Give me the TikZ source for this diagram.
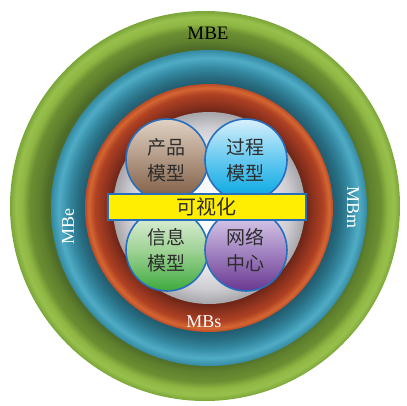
\documentclass[tikz,border=0pt]{standalone}
\usepackage{fontspec}
\setmainfont{Liberation Serif}
\newfontfamily\cjk{Noto Sans CJK SC}

\definecolor{edgeblue}{RGB}{40,110,190}
\definecolor{textgray}{RGB}{45,45,45}
\definecolor{visyellow}{RGB}{255,238,0}
% green ring
\definecolor{gA}{RGB}{78,108,40}
\definecolor{gB}{RGB}{95,128,45}
\definecolor{gC}{RGB}{108,142,50}
\definecolor{gD}{RGB}{142,182,66}
\definecolor{gE}{RGB}{152,192,76}
\definecolor{gF}{RGB}{122,165,56}
% blue ring
\definecolor{bA}{RGB}{33,92,112}
\definecolor{bB}{RGB}{40,108,128}
\definecolor{bC}{RGB}{52,138,162}
\definecolor{bD}{RGB}{80,172,198}
\definecolor{bE}{RGB}{52,138,162}
% red ring
\definecolor{rA}{RGB}{108,37,24}
\definecolor{rB}{RGB}{140,50,30}
\definecolor{rC}{RGB}{175,65,35}
\definecolor{rD}{RGB}{212,102,50}
\definecolor{rE}{RGB}{185,75,40}
% inner ball
\definecolor{wA}{RGB}{240,240,242}
\definecolor{wB}{RGB}{205,205,210}
\definecolor{wC}{RGB}{165,165,170}

% the path edge sits at 25bp
\pgfdeclareradialshading{greenring}{\pgfpointorigin}{color(0bp)=(gA); color(20.25bp)=(gA); color(21.25bp)=(gB); color(22.5bp)=(gC); color(23.4bp)=(gD); color(24.25bp)=(gE); color(25bp)=(gF); color(50bp)=(gF)}
\pgfdeclareradialshading{bluering}{\pgfpointorigin}{color(0bp)=(bA); color(19.6bp)=(bA); color(20.75bp)=(bB); color(22.25bp)=(bC); color(23.75bp)=(bD); color(25bp)=(bE); color(50bp)=(bE)}
\pgfdeclareradialshading{redring}{\pgfpointorigin}{color(0bp)=(rA); color(19.35bp)=(rA); color(21bp)=(rB); color(23bp)=(rC); color(24.25bp)=(rD); color(25bp)=(rE); color(50bp)=(rE)}
\pgfdeclareradialshading{innerball}{\pgfpointorigin}{color(0bp)=(white); color(14bp)=(wA); color(21bp)=(wB); color(25bp)=(wC); color(50bp)=(wC)}

\begin{document}
\begin{tikzpicture}[x=1pt,y=1pt,
  model/.style={circle,draw=edgeblue,line width=1.6pt,minimum size=82pt,inner sep=0pt,
                align=center,text=textgray,font=\cjk\fontsize{19}{26}\selectfont},
  ringlabel/.style={inner sep=0pt,font=\fontsize{18}{18}\selectfont}]
\useasboundingbox (-205,-200) rectangle (202,206);
\shade[shading=greenring] (0,0) circle (195);
\shade[shading=bluering]  (4,-2) circle (158);
\shade[shading=redring]   (4,-2) circle (124);
\shade[shading=innerball] (4,-2) circle (96);
\node[model,top color={rgb,255:red,225;green,210;blue,195},bottom color={rgb,255:red,125;green,90;blue,65},middle color={rgb,255:red,175;green,150;blue,130}]
      (product) at (-38,46)  {产品\\模型};
\node[model,top color={rgb,255:red,215;green,240;blue,252},bottom color={rgb,255:red,0;green,165;blue,225},middle color={rgb,255:red,100;green,200;blue,240}]
      (process) at (41,46)   {过程\\模型};
\node[model,top color={rgb,255:red,232;green,245;blue,228},bottom color={rgb,255:red,60;green,170;blue,60},middle color={rgb,255:red,160;green,210;blue,150}]
      (info)    at (-38,-44) {信息\\模型};
\node[model,top color={rgb,255:red,225;green,215;blue,240},bottom color={rgb,255:red,105;green,55;blue,145},middle color={rgb,255:red,165;green,135;blue,195}]
      (network) at (41,-44)  {网络\\中心};
\node[draw=edgeblue,line width=1.6pt,fill=visyellow,minimum width=198pt,minimum height=26pt,inner sep=0pt,
      text=textgray,font=\cjk\fontsize{20}{20}\selectfont]
      (vis) at (2,-1) {可视化};
\node[ringlabel,text=black,font=\fontsize{19}{19}\selectfont] (mbe) at (3,173)   {MBE};
\node[ringlabel,text=white,rotate=90]                         (mbe2) at (-137,-21) {MBe};
\node[ringlabel,text=white,rotate=-90]                        (mbm) at (148,-2)   {MBm};
\node[ringlabel,text=white]                                   (mbs) at (-1,-116)  {MBs};
\end{tikzpicture}
\end{document}
